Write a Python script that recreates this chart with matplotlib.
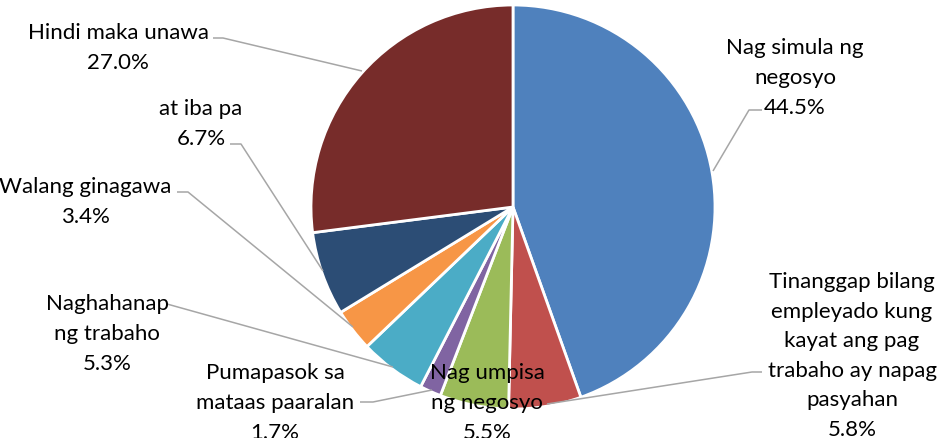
import matplotlib
matplotlib.use("Agg")
import matplotlib.pyplot as plt

categories = ["Nag simula ng\nnegosyo", "Tinanggap bilang\nempleyado kung\nkayat ang pag\ntrabaho ay napag\npasyahan",
              "Nag umpisa\nng negosyo", "Pumapasok sa\nmataas paaralan", "Naghahanap\nng trabaho",
              "Walang ginagawa", "at iba pa", "Hindi maka unawa"]
values = [44.5, 5.8, 5.5, 1.7, 5.3, 3.4, 6.7, 27.0]
colors = ["#4F81BD", "#C0504D", "#9BBB59", "#8064A2", "#4BACC6", "#F79646", "#2C4D75", "#772C2A"]

# label block centres (pixel coords) and leader line paths
label_pos = [(795, 78), (852, 356), (487, 403), (275, 403), (107, 334), (85, 202), (201, 124), (118, 48)]
leaders = [
    [(713, 172), (749, 111), (762, 111)],
    [(547, 405), (752, 373), (762, 373)],
    None,
    [(432, 391), (373, 403), (360, 403)],
    [(393, 368), (167, 305)],
    [(353, 328), (188, 193), (177, 193)],
    [(323, 272), (241, 145), (230, 145)],
    [(362, 72), (223, 39), (213, 39)],
]

W, H = 950, 439
fig = plt.figure(figsize=(W / 100, H / 100), dpi=100)
ax = fig.add_axes([0, 0, 1, 1])
ax.pie(values, colors=colors, center=(513, 208), radius=202,
       startangle=-90, counterclock=True,
       wedgeprops=dict(edgecolor="white", linewidth=2.0))
ax.set_xlim(0, W)
ax.set_ylim(H, 0)
ax.set_aspect("equal")
ax.axis("off")

for path in leaders:
    if path is None:
        continue
    xs = [p[0] for p in path]
    ys = [p[1] for p in path]
    ax.plot(xs, ys, color="#A6A6A6", lw=1.1, solid_capstyle="butt", zorder=1)

for cat, v, (x, y) in zip(categories, values, label_pos):
    ax.text(x, y, f"{cat}\n{v:.1f}%", ha="center", va="center", fontsize=16,
            family="Lato", linespacing=1.6, color="black", zorder=5)

fig.savefig("out.png", dpi=100)
